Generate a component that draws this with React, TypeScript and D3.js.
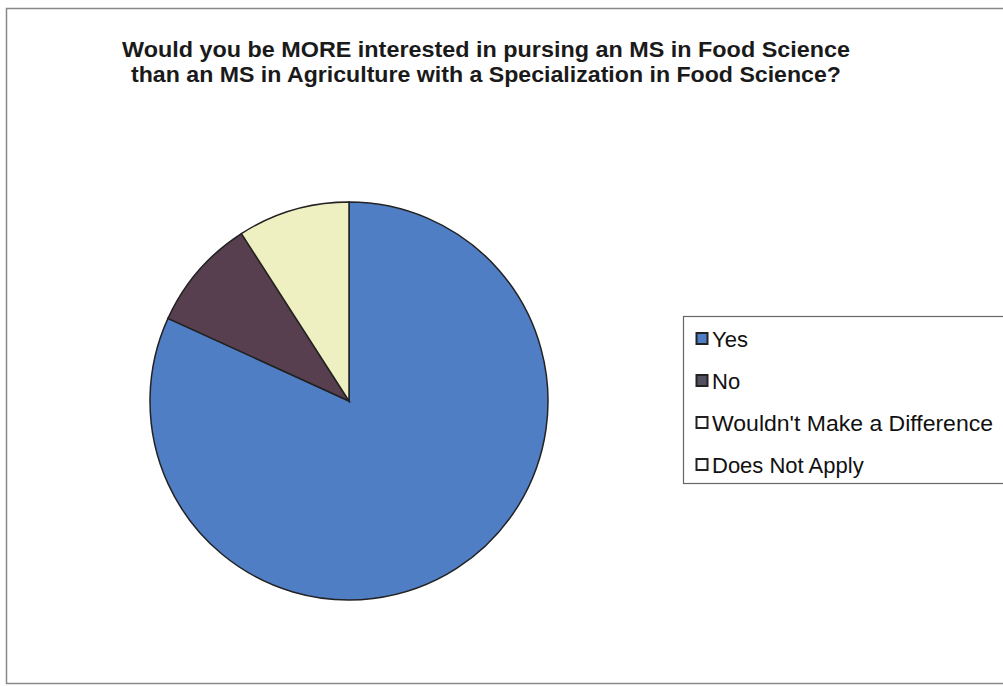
import React from "react";
import * as d3 from "d3";

const categories = ["Yes", "No", "Wouldn't Make a Difference", "Does Not Apply"];
const values = [9, 1, 1, 0];
const colors = ["#4f7ec4", "#573f4f", "#eef0c2", "#f4f4f4"];
const swatchColors = ["#4f7ec4", "#555060", "#ffffff", "#ffffff"];
const titleLines = [
  "Would you be MORE interested in pursing an MS in Food Science",
  "than an MS in Agriculture with a Specialization in Food Science?",
];

export default function App() {
  const W = 1003, H = 686;
  const cx = 349, cy = 401, r = 199;
  const pie = d3.pie<number>().sort(null).value((d) => d);
  const arcs = pie(values);
  const arc = d3.arc<d3.PieArcDatum<number>>().innerRadius(0).outerRadius(r);
  const legendY = d3.scalePoint<string>().domain(categories).range([339, 465]);
  const legendW = [0, 0, 281, 0];
  return (
    <svg width={W} height={H} style={{ position: "absolute", left: 0, top: 0 }} fontFamily="Liberation Sans, Arial, sans-serif">
      <rect x={0} y={0} width={W} height={H} fill="#fff" />
      <rect x={6.5} y={8.5} width={1010} height={675} fill="#fff" stroke="#888" strokeWidth={1.5} />
      {titleLines.map((t, i) => (
        <text key={i} x={486} y={57 + i * 25} textAnchor="middle" fontSize={21.5} fontWeight="bold" fill="#1a1a1a"
          textLength={i === 0 ? 728 : 710} lengthAdjust="spacingAndGlyphs">{t}</text>
      ))}
      <g transform={`translate(${cx},${cy})`}>
        {arcs.map((a, i) => a.value > 0 ? (
          <path key={i} d={arc(a) || ""} fill={colors[i]} stroke="#222" strokeWidth={1.5} />
        ) : null)}
      </g>
      <rect x={683.5} y={316.5} width={330} height={167} fill="#fff" stroke="#666" strokeWidth={1.2} />
      {categories.map((c, i) => (
        <g key={c}>
          <rect x={696.5} y={(legendY(c) as number) - 6} width={11} height={11} fill={swatchColors[i]} stroke="#222" strokeWidth={2} />
          <text x={712} y={(legendY(c) as number) + 8} fontSize={22} fill="#111"
            {...(legendW[i] ? { textLength: legendW[i], lengthAdjust: "spacingAndGlyphs" } : {})}>{c}</text>
        </g>
      ))}
    </svg>
  );
}
